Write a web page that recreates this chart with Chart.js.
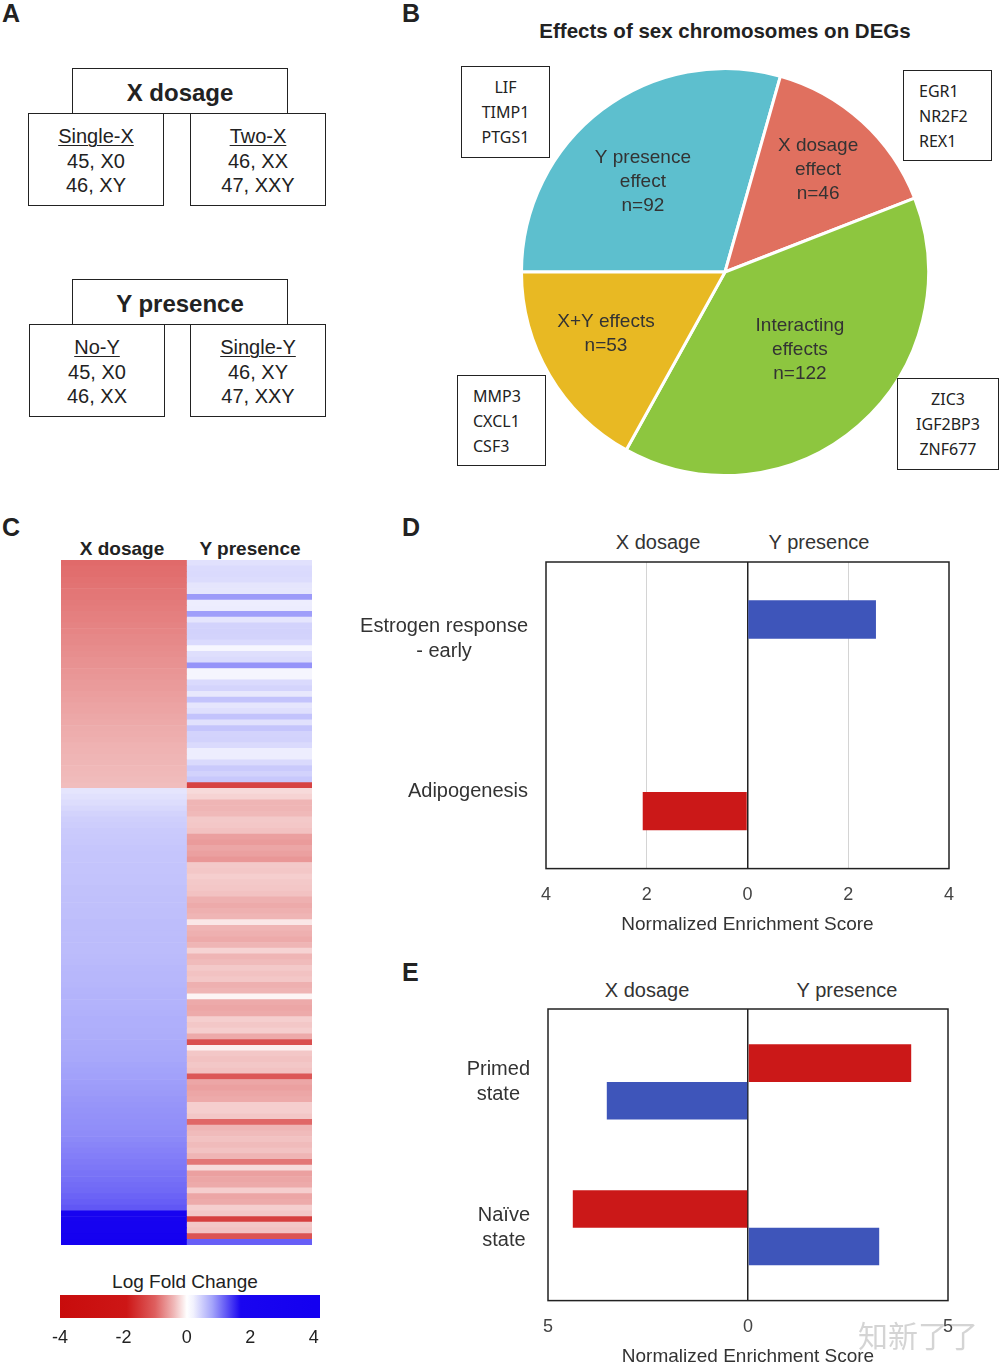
<!DOCTYPE html>
<html>
<head>
<meta charset="utf-8">
<script src="https://cdn.jsdelivr.net/npm/chart.js@4.4.0/dist/chart.umd.min.js"></script>
<style>
  body { margin: 0; width: 1002px; height: 1366px; background: #fff; position: relative; overflow: hidden;
         font-family: "Liberation Sans", Arial, sans-serif; color: #222; }
  .abs { position: absolute; }
  .letter { font-weight: bold; font-size: 25px; line-height: 25px; }
  .box { position: absolute; box-sizing: border-box; border: 1.5px solid #222; background: #fff; text-align: center; }
  .head { font-weight: bold; font-size: 24px; line-height: 47px; }
  .sub { font-size: 20px; line-height: 24.5px; padding-top: 10px; }
  .sub u { text-decoration-thickness: 1px; text-underline-offset: 2px; }
  .gene { font-family: "Noto Sans", sans-serif; font-size: 16px; line-height: 25px; padding-top: 8px; color: #222; }
  .ctr { transform: translate(-50%, -50%); white-space: nowrap; }
  canvas { position: absolute; }
</style>
</head>
<body>
<!-- panel letters -->
<div class="abs letter" style="left:2px;top:1px">A</div>
<div class="abs letter" style="left:402px;top:1px">B</div>
<div class="abs letter" style="left:2px;top:515px">C</div>
<div class="abs letter" style="left:402px;top:515px">D</div>
<div class="abs letter" style="left:402px;top:960px">E</div>

<!-- panel A -->
<div class="box sub" style="left:28px;top:113px;width:136px;height:93px"><u>Single-X</u><br>45, X0<br>46, XY</div>
<div class="box sub" style="left:190px;top:113px;width:136px;height:93px"><u>Two-X</u><br>46, XX<br>47, XXY</div>
<div class="box head" style="left:72px;top:68px;width:216px;height:46px">X dosage</div>
<div class="box sub" style="left:29px;top:324px;width:136px;height:93px"><u>No-Y</u><br>45, X0<br>46, XX</div>
<div class="box sub" style="left:190px;top:324px;width:136px;height:93px"><u>Single-Y</u><br>46, XY<br>47, XXY</div>
<div class="box head" style="left:72px;top:279px;width:216px;height:46px">Y presence</div>

<!-- panel B -->
<div class="abs ctr" style="left:725px;top:31px;font-weight:bold;font-size:20.5px">Effects of sex chromosomes on DEGs</div>
<canvas id="pie" width="412" height="412" style="left:519px;top:66px"></canvas>
<div class="box gene" style="left:461px;top:66px;width:89px;height:92px">LIF<br>TIMP1<br>PTGS1</div>
<div class="box gene" style="left:903px;top:70px;width:89px;height:91px;text-align:left;padding-left:15px">EGR1<br>NR2F2<br>REX1</div>
<div class="box gene" style="left:457px;top:375px;width:89px;height:91px;text-align:left;padding-left:15px">MMP3<br>CXCL1<br>CSF3</div>
<div class="box gene" style="left:897px;top:378px;width:102px;height:92px">ZIC3<br>IGF2BP3<br>ZNF677</div>

<!-- panel C -->
<div class="abs ctr" style="left:122px;top:549px;font-weight:bold;font-size:19px">X dosage</div>
<div class="abs ctr" style="left:250px;top:549px;font-weight:bold;font-size:19px">Y presence</div>
<canvas id="heat" width="251" height="685" style="left:61px;top:560px"></canvas>
<div class="abs ctr" style="left:185px;top:1282px;font-size:19px">Log Fold Change</div>
<canvas id="cbar" width="300" height="70" style="left:30px;top:1290px"></canvas>

<!-- panel D -->
<div class="abs ctr" style="left:658px;top:542px;font-size:20px;color:#333">X dosage</div>
<div class="abs ctr" style="left:819px;top:542px;font-size:20px;color:#333">Y presence</div>
<canvas id="nesD" width="660" height="385" style="left:340px;top:555px"></canvas>

<!-- panel E -->
<div class="abs ctr" style="left:647px;top:990px;font-size:20px;color:#333">X dosage</div>
<div class="abs ctr" style="left:847px;top:990px;font-size:20px;color:#333">Y presence</div>
<canvas id="nesE" width="660" height="367" style="left:340px;top:1002px"></canvas>

<div class="abs" style="left:858px;top:1312px;font-family:'Noto Sans CJK SC';font-size:30px;color:rgba(160,160,160,0.45)">知新了了</div>

<script>
Chart.defaults.font.family = '"Liberation Sans", Arial, sans-serif';
Chart.defaults.color = '#333';

// B: pie
const effectNames = [['Y presence', 'effect'], ['X dosage', 'effect'], ['Interacting', 'effects'], ['X+Y effects']];
const effectCounts = [92, 46, 122, 53];
const effectColors = ['#5DBFCE', '#E0705F', '#8DC63F', '#E8B923'];

// C: log fold change per gene row (top to bottom)
const xDosage = [
  -0.93, -0.91, -0.90, -0.88, -0.87, -0.85, -0.84, -0.82, -0.81, -0.79,
  -0.78, -0.76, -0.75, -0.73, -0.72, -0.70, -0.69, -0.67, -0.66, -0.64,
  -0.63, -0.61, -0.60, -0.58, -0.57, -0.55, -0.54, -0.52, -0.51, -0.49,
  -0.48, -0.47, -0.45, -0.44, -0.43, -0.42, -0.41, -0.40, -0.39, -0.38,
  0.30, 0.33, 0.36, 0.40, 0.44, 0.47, 0.49, 0.51, 0.52, 0.53,
  0.54, 0.55, 0.55, 0.56, 0.56, 0.57, 0.57, 0.58, 0.58, 0.59,
  0.59, 0.60, 0.60, 0.61, 0.61, 0.61, 0.62, 0.62, 0.62, 0.63,
  0.64, 0.65, 0.66, 0.66, 0.67, 0.68, 0.69, 0.69, 0.70, 0.71,
  0.72, 0.72, 0.73, 0.74, 0.75, 0.76, 0.77, 0.78, 0.80, 0.81,
  0.82, 0.84, 0.85, 0.86, 0.88, 0.89, 0.90, 0.91, 0.92, 0.93,
  0.94, 0.96, 0.98, 1.00, 1.02, 1.04, 1.06, 1.08, 1.10, 1.12,
  1.14, 1.17, 1.20, 1.24, 2.4, 2.7, 3.0, 3.2, 3.5, 3.9
];
const yPresence = [
  0.33, 0.38, 0.39, 0.37, 0.30, 0.29, 0.86, 0.24, 0.25, 0.84,
  0.30, 0.44, 0.45, 0.44, 0.39, 0.14, 0.35, 0.38, 0.90, 0.16,
  0.16, 0.39, 0.43, 0.28, 0.57, 0.30, 0.35, 0.57, 0.33, 0.55,
  0.44, 0.45, 0.39, 0.24, 0.24, 0.39, 0.51, 0.45, 0.53, -1.35,
  -0.21, -0.25, -0.43, -0.43, -0.40, -0.31, -0.32, -0.35, -0.57, -0.60,
  -0.53, -0.57, -0.63, -0.31, -0.32, -0.28, -0.31, -0.32, -0.35, -0.46,
  -0.50, -0.46, -0.43, -0.14, -0.43, -0.46, -0.50, -0.43, -0.25, -0.43,
  -0.39, -0.31, -0.35, -0.32, -0.46, -0.43, -0.06, -0.50, -0.53, -0.50,
  -0.28, -0.32, -0.28, -0.50, -1.20, -0.09, -0.32, -0.35, -0.32, -0.35,
  -1.10, -0.53, -0.57, -0.53, -0.50, -0.28, -0.28, -0.32, -0.95, -0.43,
  -0.39, -0.35, -0.39, -0.35, -0.43, -0.85, -0.21, -0.57, -0.53, -0.50,
  -0.28, -0.53, -0.50, -0.28, -0.32, -1.40, -0.32, -0.35, -1.15, 1.20
];
const colorbarTicks = [-4, -2, 0, 2, 4];

// D: enrichment scores
const hallmarkSets = [['Estrogen response', '- early'], 'Adipogenesis'];
const hallmarkUpper = [2.55, null];
const hallmarkLower = [null, -2.08];

// E: enrichment scores
const stateSets = [['Primed', 'state'], ['Naïve', 'state']];
const stateRed = [4.08, -4.38];
const stateBlue = [-3.53, 3.28];

const RED = '#CB1818';
const BLUE = '#3E55BA';

// colour map for log fold change (value, rgb)
const lfcStops = [
  [-4, [200, 12, 12]], [-1.9, [205, 22, 22]], [-1.0, [222, 95, 95]], [-0.4, [240, 185, 185]],
  [0, [255, 255, 255]], [0.2, [242, 242, 254]], [0.8, [165, 165, 250]], [1.7, [25, 5, 240]], [4, [20, 0, 240]]
];
function lfcColor(v) {
  if (v <= lfcStops[0][0]) return 'rgb(' + lfcStops[0][1].join(',') + ')';
  for (let i = 1; i < lfcStops.length; i++) {
    const [v1, c1] = lfcStops[i];
    if (v <= v1) {
      const [v0, c0] = lfcStops[i - 1];
      const t = (v - v0) / (v1 - v0);
      return 'rgb(' + c0.map((c, k) => Math.round(c + (c1[k] - c) * t)).join(',') + ')';
    }
  }
  return 'rgb(' + lfcStops[lfcStops.length - 1][1].join(',') + ')';
}

// pie labels inside slices
const labelRadius = [0.6, 0.68, 0.53, 0.66];
const labelTurn = [-0.09, 0, -0.05, 0.05];
const sliceLabels = {
  id: 'sliceLabels',
  afterDatasetsDraw(chart) {
    const ctx = chart.ctx;
    ctx.save();
    ctx.font = '19px "Liberation Sans", Arial, sans-serif';
    ctx.fillStyle = '#333';
    ctx.textAlign = 'center';
    ctx.textBaseline = 'middle';
    chart.getDatasetMeta(0).data.forEach((arc, i) => {
      const mid = (arc.startAngle + arc.endAngle) / 2 + labelTurn[i];
      const r = arc.outerRadius * labelRadius[i];
      const cx = arc.x + Math.cos(mid) * r;
      const cy = arc.y + Math.sin(mid) * r;
      const lines = effectNames[i].concat('n=' + effectCounts[i]);
      lines.forEach((l, k) => ctx.fillText(l, cx, cy + (k - (lines.length - 1) / 2) * 24));
    });
    ctx.restore();
  }
};

new Chart(document.getElementById('pie'), {
  type: 'pie',
  data: {
    labels: effectNames.map(n => n.join(' ')),
    datasets: [{ data: effectCounts, backgroundColor: effectColors, borderColor: '#fff', borderWidth: 3 }]
  },
  options: {
    responsive: false, animation: false, rotation: -90,
    layout: { padding: 1 },
    plugins: { legend: { display: false }, tooltip: { enabled: false } }
  },
  plugins: [sliceLabels]
});

// C: heatmap as stacked full-width bars
const geneRows = xDosage.map((v, i) => 'gene ' + (i + 1));
new Chart(document.getElementById('heat'), {
  type: 'bar',
  data: {
    labels: geneRows,
    datasets: [
      { label: 'X dosage', data: xDosage.map(() => 1), backgroundColor: xDosage.map(lfcColor),
        borderWidth: 0, barPercentage: 1, categoryPercentage: 1 },
      { label: 'Y presence', data: yPresence.map(() => 1), backgroundColor: yPresence.map(lfcColor),
        borderWidth: 0, barPercentage: 1, categoryPercentage: 1 }
    ]
  },
  options: {
    indexAxis: 'y', responsive: false, animation: false,
    layout: { padding: 0 },
    scales: {
      x: { stacked: true, display: false, min: 0, max: 2 },
      y: { stacked: true, display: false }
    },
    plugins: { legend: { display: false }, tooltip: { enabled: false } }
  }
});

// colour bar: gradient and tick labels placed through the x scale
const colorbarFill = {
  id: 'colorbarFill',
  beforeDatasetsDraw(chart) {
    const { ctx, chartArea, scales } = chart;
    const x = scales.x;
    const g = ctx.createLinearGradient(chartArea.left, 0, chartArea.right, 0);
    lfcStops.forEach(([v, c]) => {
      g.addColorStop((x.getPixelForValue(v) - chartArea.left) / chartArea.width, 'rgb(' + c.join(',') + ')');
    });
    g.addColorStop(1, 'rgb(20,0,240)');
    ctx.save();
    ctx.fillStyle = g;
    ctx.fillRect(chartArea.left, chartArea.top, chartArea.width, chartArea.height);
    ctx.font = '18px "Liberation Sans", Arial, sans-serif';
    ctx.fillStyle = '#222';
    ctx.textAlign = 'center';
    ctx.textBaseline = 'middle';
    colorbarTicks.forEach(v => ctx.fillText(String(v), x.getPixelForValue(v), chartArea.bottom + 20));
    ctx.restore();
  }
};
new Chart(document.getElementById('cbar'), {
  type: 'scatter',
  data: { datasets: [] },
  options: {
    responsive: false, animation: false,
    layout: { padding: { left: 30, right: 10, top: 5, bottom: 42 } },
    scales: {
      x: { type: 'linear', display: false, min: -4, max: 4.2 },
      y: { display: false, min: 0, max: 1 }
    },
    plugins: { legend: { display: false }, tooltip: { enabled: false } }
  },
  plugins: [colorbarFill]
});

// D / E: labelled, framed horizontal bars
const sideLabels = {
  id: 'sideLabels',
  afterDraw(chart) {
    const { ctx, chartArea, scales } = chart;
    ctx.save();
    ctx.font = '20px "Liberation Sans", Arial, sans-serif';
    ctx.fillStyle = '#333';
    ctx.textAlign = 'center';
    ctx.textBaseline = 'middle';
    chart.data.labels.forEach((lab, i) => {
      const lines = Array.isArray(lab) ? lab : [lab];
      const w = Math.max(...lines.map(l => ctx.measureText(l).width));
      const cx = chartArea.left - 18 - w / 2;
      const cy = scales.y.getPixelForValue(i);
      lines.forEach((l, k) => ctx.fillText(l, cx, cy + (k - (lines.length - 1) / 2) * 25));
    });
    ctx.strokeStyle = '#222';
    ctx.lineWidth = 1.5;
    ctx.strokeRect(chartArea.left, chartArea.top, chartArea.width, chartArea.height);
    ctx.restore();
  }
};

function nesOptions(lim, step, pad, catPct, showGrid) {
  return {
    indexAxis: 'y', responsive: false, animation: false,
    layout: { padding: pad },
    datasets: { bar: { barPercentage: 1, categoryPercentage: catPct, borderWidth: 0 } },
    scales: {
      x: {
        min: -lim, max: lim,
        ticks: { stepSize: step, padding: 16, font: { size: 18 }, color: '#444', callback: v => Math.abs(v) },
        grid: {
          drawTicks: false,
          lineWidth: c => c.tick.value === 0 ? 1.5 : 1,
          color: c => c.tick.value === 0 ? '#222' : (showGrid && Math.abs(c.tick.value) < lim ? '#d4d4d4' : 'rgba(0,0,0,0)')
        },
        border: { display: false },
        title: { display: true, text: 'Normalized Enrichment Score', font: { size: 19 }, color: '#333', padding: { top: -9, bottom: 0 } }
      },
      y: { display: false }
    },
    plugins: { legend: { display: false }, tooltip: { enabled: false } }
  };
}

new Chart(document.getElementById('nesD'), {
  type: 'bar',
  data: {
    labels: hallmarkSets,
    datasets: [
      { label: 'upper', data: hallmarkUpper, backgroundColor: BLUE },
      { label: 'lower', data: hallmarkLower, backgroundColor: RED }
    ]
  },
  options: nesOptions(4, 2, { left: 206, right: 51, top: 7, bottom: 4 }, 0.5, true),
  plugins: [sideLabels]
});

new Chart(document.getElementById('nesE'), {
  type: 'bar',
  data: {
    labels: stateSets,
    datasets: [
      { label: 'red', data: stateRed, backgroundColor: RED },
      { label: 'blue', data: stateBlue, backgroundColor: BLUE }
    ]
  },
  options: nesOptions(5, 5, { left: 208, right: 52, top: 7, bottom: 1 }, 0.515, false),
  plugins: [sideLabels]
});
</script>
</body>
</html>
